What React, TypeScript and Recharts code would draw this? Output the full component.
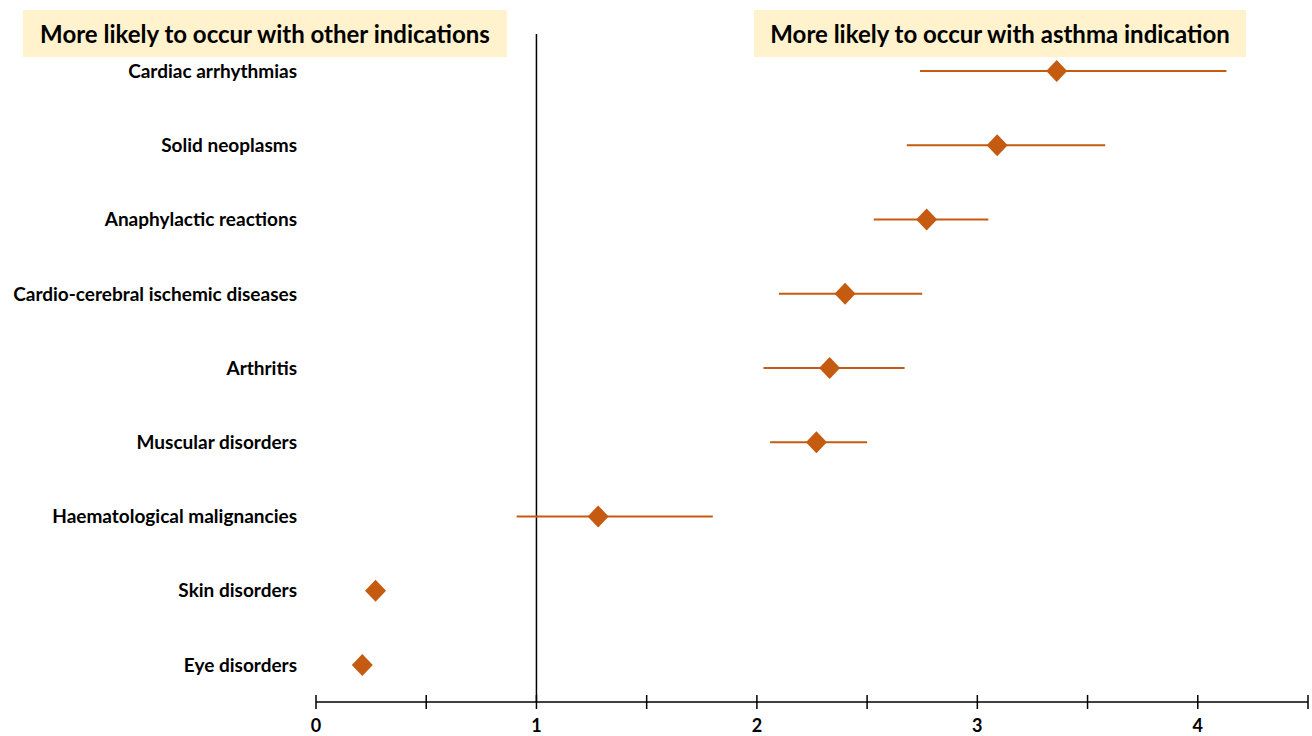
import React from "react";
import {
  ErrorBar,
  ReferenceLine,
  Scatter,
  ScatterChart,
  XAxis,
  YAxis,
} from "recharts";

const CATEGORIES = [
  "Cardiac arrhythmias",
  "Solid neoplasms",
  "Anaphylactic reactions",
  "Cardio-cerebral ischemic diseases",
  "Arthritis",
  "Muscular disorders",
  "Haematological malignancies",
  "Skin disorders",
  "Eye disorders",
];
const ESTIMATES = [3.36, 3.09, 2.77, 2.4, 2.33, 2.27, 1.28, 0.27, 0.21];
const LOWER = [2.74, 2.68, 2.53, 2.1, 2.03, 2.06, 0.91, 0.27, 0.21];
const UPPER = [4.13, 3.58, 3.05, 2.75, 2.67, 2.5, 1.8, 0.27, 0.21];
const X_TICKS = [0, 0.5, 1, 1.5, 2, 2.5, 3, 3.5, 4, 4.5];

const ORANGE = "#C55A11";
const FONT = "Lato, 'Open Sans', sans-serif";

const data = CATEGORIES.map((name, i) => ({
  name,
  value: ESTIMATES[i],
  err: [ESTIMATES[i] - LOWER[i], UPPER[i] - ESTIMATES[i]],
}));

function Diamond(props: any) {
  const { cx, cy } = props;
  if (cx == null || cy == null) return null;
  const w = 10.5;
  const h = 11;
  return (
    <polygon
      points={`${cx},${cy - h} ${cx + w},${cy} ${cx},${cy + h} ${cx - w},${cy}`}
      fill={ORANGE}
    />
  );
}

function XTick(props: any) {
  const { x, y, payload } = props;
  const v = payload.value as number;
  return (
    <g>
      <line x1={x} x2={x} y1={y - 7} y2={y + 7} stroke="#000" strokeWidth={1.5} />
      {Number.isInteger(v) ? (
        <text
          x={x}
          y={y + 30}
          textAnchor="middle"
          fontSize={18}
          fontWeight={700}
          fill="#000"
          fontFamily={FONT}
        >
          {v}
        </text>
      ) : null}
    </g>
  );
}

const boxStyle: React.CSSProperties = {
  position: "absolute",
  background: "#FFF2CC",
  fontFamily: FONT,
  fontWeight: 700,
  fontSize: 24,
  color: "#000",
  display: "flex",
  alignItems: "center",
  justifyContent: "center",
  height: 47,
  top: 10,
};

export default function App() {
  return (
    <div
      style={{
        position: "absolute",
        left: 0,
        top: 0,
        width: 1312,
        height: 736,
        background: "#fff",
      }}
    >
      <ScatterChart
        width={1312}
        height={736}
        margin={{ top: 34, right: 4, left: 6, bottom: 4 }}
      >
        <XAxis
          type="number"
          dataKey="value"
          domain={[0, 4.5]}
          ticks={X_TICKS}
          interval={0}
          allowDataOverflow
          height={30}
          axisLine={{ stroke: "#000", strokeWidth: 1.5 }}
          tickLine={false}
          tickSize={0}
          tickMargin={0}
          tick={<XTick />}
        />
        <YAxis
          type="category"
          dataKey="name"
          width={310}
          reversed
          allowDuplicatedCategory={false}
          axisLine={false}
          tickLine={false}
          tickSize={0}
          tickMargin={19}
          interval={0}
          tick={{
            fontSize: 19,
            fontWeight: 700,
            fill: "#000",
            fontFamily: FONT,
          }}
        />
        <ReferenceLine x={1} stroke="#000" strokeWidth={1.5} />
        <Scatter data={data} shape={<Diamond />} isAnimationActive={false}>
          <ErrorBar
            dataKey="err"
            direction="x"
            width={0}
            stroke={ORANGE}
            strokeWidth={2}
          />
        </Scatter>
      </ScatterChart>
      <div style={{ ...boxStyle, left: 23, width: 484 }}>
        More likely to occur with other indications
      </div>
      <div style={{ ...boxStyle, left: 754, width: 492 }}>
        More likely to occur with asthma indication
      </div>
    </div>
  );
}
